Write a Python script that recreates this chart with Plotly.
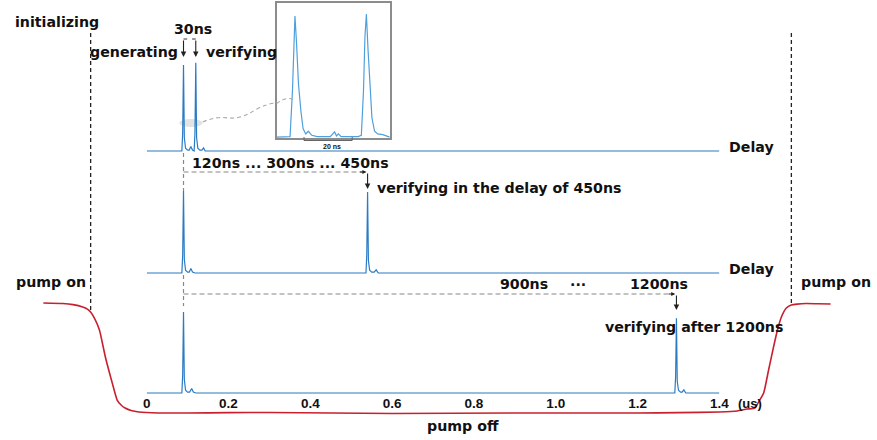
import plotly.graph_objects as go

W, H = 877, 440

# ---------------- data ----------------
# time axis (us) of the three oscilloscope traces
tick_vals = [0, 0.2, 0.4, 0.6, 0.8, 1.0, 1.2, 1.4]
tick_text = ["0", "0.2", "0.4", "0.6", "0.8", "1.0", "1.2", "1.4"]

# top trace: generating at 0.09 us, verifying 30 ns later
t_top = [0, 0.086, 0.088, 0.09, 0.092, 0.095, 0.100, 0.104, 0.108, 0.112, 0.116, 0.118,
         0.12, 0.122, 0.125, 0.130, 0.135, 0.139, 0.143, 1.4]
v_top = [0, 0, 0.20, 0.955, 0.15, 0.03, 0.01, 0.01, 0.05, 0.01, 0.0, 0.20,
         0.98, 0.15, 0.03, 0.01, 0.01, 0.035, 0.0, 0]

# middle trace: verifying after 450 ns
t_mid = [0, 0.086, 0.088, 0.09, 0.092, 0.095, 0.100, 0.104, 0.108, 0.112, 0.118,
         0.536, 0.538, 0.54, 0.542, 0.545, 0.550, 0.556, 0.561, 0.566, 1.4]
v_mid = [0, 0, 0.20, 0.92, 0.15, 0.03, 0.01, 0.01, 0.05, 0.01, 0.0,
         0, 0.20, 0.90, 0.14, 0.03, 0.01, 0.01, 0.035, 0.0, 0]

# bottom trace: verifying after 1200 ns
t_bot = [0, 0.086, 0.088, 0.09, 0.092, 0.095, 0.100, 0.105, 0.110, 0.114, 0.120,
         1.291, 1.293, 1.295, 1.297, 1.300, 1.305, 1.309, 1.313, 1.318, 1.4]
v_bot = [0, 0, 0.20, 0.90, 0.15, 0.03, 0.01, 0.01, 0.05, 0.01, 0.0,
         0, 0.18, 0.83, 0.13, 0.03, 0.01, 0.01, 0.035, 0.0, 0]

# inset zoom (ns)
t_ins = [0, 5.6, 6.6, 7.0, 7.63, 8.3, 9.1, 10.1, 11.0, 12.1, 13.2, 14.6, 16.9, 22.3, 24.1,
         24.9, 25.7, 26.8, 31.2, 33.9, 35.2, 36.1, 36.7, 37.3, 38.0, 38.8, 39.6, 40.7,
         42.0, 44.1, 46.3, 47]
v_ins = [0.007, 0.01, 0.35, 0.62, 0.904, 0.70, 0.40, 0.20, 0.07, 0.03, 0.05, 0.02, 0.01, 0.01,
         0.045, 0.015, 0.03, 0.01, 0.01, 0.01, 0.02, 0.35, 0.75, 0.919, 0.65, 0.35, 0.15,
         0.05, 0.03, 0.025, 0.01, 0.007]

# pump signal (normalised, 1 = pump on)
t_pump = [-0.2526, -0.2045, -0.1800, -0.1564, -0.1450, -0.1371, -0.1275, -0.1155, -0.1010,
          -0.0842, -0.0722, -0.0620, -0.0529, -0.0380, -0.0192, 0.0289, 0.10, 0.20, 0.3,
          0.6, 0.9, 1.2, 1.30, 1.40, 1.4434, 1.4674, 1.4867, 1.4987, 1.5083, 1.5203,
          1.5324, 1.5420, 1.5516, 1.5636, 1.5757, 1.5900, 1.6118, 1.6400, 1.6719]
v_pump = [1.0, 0.995, 0.985, 0.964, 0.945, 0.918, 0.86, 0.755, 0.509,
          0.273, 0.118, 0.070, 0.045, 0.022, 0.009, 0.0, 0.0, 0.003, 0.005,
          -0.005, 0.0, 0.0, 0.003, 0.009, 0.018, 0.036, 0.045, 0.118, 0.182, 0.391,
          0.60, 0.755, 0.873, 0.955, 0.982, 0.990, 0.995, 0.993, 0.991]

t_gen = 0.09
t_ver_mid = 0.54
t_ver_bot = 1.295
t_ver_top = 0.12
t_pump_off = -0.137
t_pump_on = 1.576

BLUE = "#2a7bc4"
BLUE_L = "#4f9fdc"
RED = "#c8202e"
TXT = "#111111"
FONT = "DejaVu Sans, Verdana, sans-serif"
TICKFONT = "Liberation Sans, Arial, sans-serif"


def fx(px):
    return px / W


def fy(py):
    return 1 - py / H


fig = go.Figure()
fig.add_trace(go.Scatter(x=t_pump, y=v_pump, xaxis="x5", yaxis="y5", mode="lines",
                         line=dict(color=RED, width=1.6, shape="spline", smoothing=0.5),
                         hoverinfo="skip"))
fig.add_trace(go.Scatter(x=t_bot, y=v_bot, xaxis="x", yaxis="y", mode="lines",
                         line=dict(color=BLUE, width=1.2), hoverinfo="skip"))
fig.add_trace(go.Scatter(x=t_mid, y=v_mid, xaxis="x2", yaxis="y2", mode="lines",
                         line=dict(color=BLUE, width=1.2), hoverinfo="skip"))
fig.add_trace(go.Scatter(x=t_top, y=v_top, xaxis="x3", yaxis="y3", mode="lines",
                         line=dict(color=BLUE, width=1.2), hoverinfo="skip"))
fig.add_trace(go.Scatter(x=t_ins, y=v_ins, xaxis="x4", yaxis="y4", mode="lines",
                         line=dict(color=BLUE_L, width=1.2), hoverinfo="skip"))

xdom = [fx(145), fx(727)]
hidden = dict(visible=False, showgrid=False, zeroline=False)

fig.update_layout(
    width=W, height=H, margin=dict(l=0, r=0, t=0, b=0),
    paper_bgcolor="white", plot_bgcolor="rgba(0,0,0,0)", showlegend=False,
    xaxis=dict(domain=xdom, range=[0, 1.4], anchor="free", position=fy(393),
               showline=False, showgrid=False, zeroline=False, ticks="",
               tickvals=tick_vals, ticktext=tick_text,
               tickfont=dict(family=TICKFONT, size=13.5, color=TXT, weight="bold")),
    yaxis=dict(domain=[fy(397.5), fy(303)], range=[-0.05, 1.0], anchor="x", **hidden),
    xaxis2=dict(domain=xdom, range=[0, 1.4], anchor="y2", **hidden),
    yaxis2=dict(domain=[fy(277.5), fy(183)], range=[-0.05, 1.0], anchor="x2", **hidden),
    xaxis3=dict(domain=xdom, range=[0, 1.4], anchor="y3", **hidden),
    yaxis3=dict(domain=[fy(155.5), fy(61)], range=[-0.05, 1.0], anchor="x3", **hidden),
    xaxis4=dict(domain=[fx(277), fx(392)], range=[0, 47], anchor="y4", showline=True,
                mirror=True, linecolor="#8c8c8c", linewidth=1.5, showticklabels=False,
                ticks="", showgrid=False, zeroline=False),
    yaxis4=dict(domain=[fy(138), fy(3)], range=[0, 1], anchor="x4", showline=True,
                mirror=True, linecolor="#8c8c8c", linewidth=1.5, showticklabels=False,
                ticks="", showgrid=False, zeroline=False),
    xaxis5=dict(domain=[0, 1], range=[-145 / 415.7, 732 / 415.7], anchor="y5", **hidden),
    yaxis5=dict(domain=[0, 1], range=[-27 / 110, 413 / 110], anchor="x5", **hidden),
)

shapes = []
# pump switching dashed lines (black)
for tp in (t_pump_off, t_pump_on):
    shapes.append(dict(type="line", xref="x5", yref="paper", x0=tp, x1=tp,
                       y0=fy(33), y1=fy(310 if tp < 0 else 304),
                       line=dict(color="#222", width=1.3, dash="4px,3px")))
# vertical gray dashed at generating time
for ya, yb in ((153, 190), (275, 306)):
    shapes.append(dict(type="line", xref="x", yref="paper", x0=t_gen, x1=t_gen,
                       y0=fy(ya), y1=fy(yb), line=dict(color="#888", width=1.2, dash="4px,3px")))
# horizontal dashed delay lines
shapes.append(dict(type="line", xref="x", yref="paper", x0=t_gen, x1=t_ver_mid - 0.012,
                   y0=fy(172), y1=fy(172), line=dict(color="#888", width=1.2, dash="5px,3px")))
shapes.append(dict(type="line", xref="x", yref="paper", x0=t_gen, x1=t_ver_bot - 0.012,
                   y0=fy(294), y1=fy(294), line=dict(color="#888", width=1.2, dash="5px,3px")))
# 30 ns bracket ticks
shapes.append(dict(type="line", xref="x", yref="paper", x0=t_gen, x1=t_gen + 0.009,
                   y0=fy(39), y1=fy(39), line=dict(color="#333", width=1)))
shapes.append(dict(type="line", xref="x", yref="paper", x0=t_ver_top - 0.009, x1=t_ver_top,
                   y0=fy(39), y1=fy(39), line=dict(color="#333", width=1)))
# highlight ellipse and dashed connector to inset
shapes.append(dict(type="circle", xref="paper", yref="paper", x0=fx(178), x1=fx(202),
                   y0=fy(127), y1=fy(119), fillcolor="#e3e3e3", line=dict(width=0),
                   layer="below"))


def P(px, py):
    return f"{fx(px):.5f},{fy(py):.5f}"


path = (f"M {P(202,122)} Q {P(215,116)} {P(228,118)} Q {P(242,119)} {P(255,110)} "
        f"Q {P(268,103)} {P(278,103)} Q {P(287,96)} {P(295,100)}")
shapes.append(dict(type="path", xref="paper", yref="paper", path=path,
                   line=dict(color="#aaa", width=1.1, dash="4px,3px")))
# 20 ns bracket under the inset
bx0, bx1 = 11.4, 31.4
shapes.append(dict(type="path", xref="x4", yref="paper",
                   path=f"M {bx0},{fy(137):.5f} L {bx0},{fy(140.5):.5f} L {bx1},{fy(140.5):.5f} L {bx1},{fy(137):.5f}",
                   line=dict(color="#666", width=1)))
fig.update_layout(shapes=shapes)

ann = []


def text(s, px, py, xanchor="center", size=14.2, family=FONT):
    ann.append(dict(text=s, x=fx(px), y=fy(py), xref="paper", yref="paper",
                    xanchor=xanchor, yanchor="middle", showarrow=False,
                    font=dict(family=family, size=size, color=TXT, weight="bold")))


text("initializing", 54, 22)
text("30ns", 192, 29)
text("generating", 179, 52, "right")
text("verifying", 203, 52, "left")
text("Delay", 735, 147, "left")
text("Delay", 735, 269, "left")
text("120ns ...\u00a0300ns ... 450ns", 189, 163, "left")
text("verifying in the delay of 450ns", 377, 188, "left")
text("900ns", 528, 284)
text("...", 583, 281)
text("1200ns", 666, 284)
text("verifying after 1200ns", 609, 327, "left")
text("pump on", 48, 282)
text("pump on", 808, 282, "left")
text("pump off", 466, 426)
text("(us)", 758, 403, size=13, family=TICKFONT)
text("20 ns", 333, 146, size=7, family=TICKFONT)


def arrow(tx, py, ax, ay, width=1.1, size=1.0):
    ann.append(dict(text="", x=tx, y=fy(py), xref="x", yref="paper", ax=ax, ay=ay,
                    showarrow=True, arrowhead=2, arrowsize=size, arrowwidth=width,
                    arrowcolor="#222"))


arrow(t_gen, 57, 0, -18)
arrow(t_ver_top, 57, 0, -18)
arrow(t_ver_mid, 189, 0, -17)
arrow(t_ver_bot, 310, 0, -16)
arrow(t_ver_mid - 0.003, 172, -8, 0, width=1, size=0.8)
arrow(t_ver_bot - 0.003, 294, -8, 0, width=1, size=0.8)

fig.update_layout(annotations=ann)

fig.write_html("out.html")
